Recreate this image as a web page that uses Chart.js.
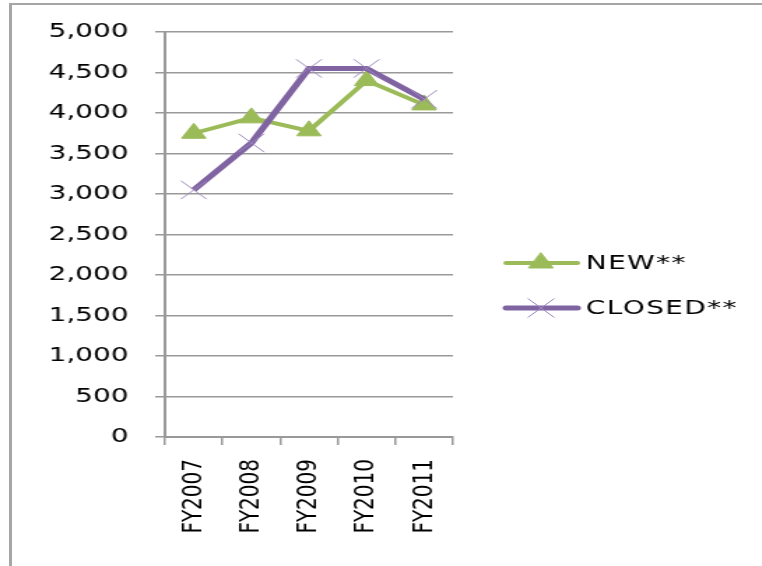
<!DOCTYPE html>
<html>
<head>
<meta charset="utf-8">
<script src="https://cdn.jsdelivr.net/npm/chart.js@4.4.0/dist/chart.umd.min.js"></script>
<style>
    body { margin: 0; background: #fff; }
    #frame {
        position: absolute; left: 9px; top: 3px; width: 760px; height: 561px;
        border-top: 2px solid #a6a6a6; border-left: 3px solid #a6a6a6;
        border-bottom: 1px solid #e6e6e6;
    }
    #wrap {
        position: absolute; left: 0; top: 0; width: 545px; height: 566px;
        transform: scaleX(1.398); transform-origin: 0 0;
    }
</style>
</head>
<body>
<div id="frame"></div>
<div id="wrap"><canvas id="chart" width="545" height="566"></canvas></div>
<script>
const years = ["FY2007", "FY2008", "FY2009", "FY2010", "FY2011"];
const newCases = [3750, 3940, 3780, 4400, 4100];
const closedCases = [3050, 3630, 4550, 4550, 4170];
const yTicks = [0, 500, 1000, 1500, 2000, 2500, 3000, 3500, 4000, 4500, 5000];

const FONT = "'DejaVu Sans', Verdana, sans-serif";

// legend drawn by hand so it sits where the original one is
const sideLegend = {
    id: "sideLegend",
    afterDraw(chart) {
        const ctx = chart.ctx;
        const rows = [1, 0]; // NEW first, then CLOSED
        const ys = [263, 308];
        rows.forEach((idx, i) => {
            const ds = chart.data.datasets[idx];
            const y = ys[i];
            ctx.save();
            ctx.strokeStyle = ds.borderColor;
            ctx.lineWidth = ds.borderWidth;
            ctx.lineCap = "round";
            ctx.beginPath();
            ctx.moveTo(362, y);
            ctx.lineTo(413, y);
            ctx.stroke();
            ctx.fillStyle = ds.pointBackgroundColor;
            ctx.strokeStyle = ds.pointBorderColor;
            ctx.lineWidth = ds.pointBorderWidth;
            Chart.helpers.drawPoint(ctx, {pointStyle: ds.pointStyle, radius: ds.pointRadius, borderWidth: ds.pointBorderWidth}, 387, y);
            ctx.fillStyle = "#000";
            ctx.font = "20px " + FONT;
            ctx.letterSpacing = "1px";
            ctx.textBaseline = "middle";
            ctx.fillText(ds.label, 419, y + 1);
            ctx.restore();
        });
    }
};

new Chart(document.getElementById("chart"), {
    type: "line",
    data: {
        labels: years,
        datasets: [
            {
                label: "CLOSED**",
                data: closedCases,
                borderColor: "#8064a2",
                borderWidth: 5,
                pointStyle: "crossRot",
                pointRadius: 13,
                pointBorderColor: "#9b86bd",
                pointBackgroundColor: "#9b86bd",
                pointBorderWidth: 1,
                order: 0
            },
            {
                label: "NEW**",
                data: newCases,
                borderColor: "#9bbb59",
                borderWidth: 4,
                pointStyle: "triangle",
                pointRadius: 10,
                pointBorderColor: "#9bbb59",
                pointBackgroundColor: "#9bbb59",
                pointBorderWidth: 1,
                order: 1
            }
        ]
    },
    options: {
        responsive: false,
        animation: false,
        events: [],
        layout: { padding: { top: 32, right: 221, left: 0, bottom: 0 } },
        plugins: { legend: { display: false }, tooltip: { enabled: false } },
        scales: {
            x: {
                offset: true,
                afterFit: s => { s.height = 129; },
                grid: { offset: true, drawOnChartArea: false, tickLength: 8, color: "#999", lineWidth: 1.5 },
                border: { color: "#999", width: 2 },
                ticks: {
                    minRotation: 90, maxRotation: 90, padding: 14,
                    color: "#000", font: { family: FONT, size: 20 }
                }
            },
            y: {
                min: 0, max: 5000,
                afterFit: s => { s.width = 118; },
                afterBuildTicks: s => { s.ticks = yTicks.map(v => ({value: v})); },
                grid: { tickLength: 7, color: "#999", lineWidth: 1.5 },
                border: { color: "#999", width: 2 },
                ticks: {
                    padding: 19, color: "#000",
                    font: { family: FONT, size: 20 },
                    callback: v => v.toLocaleString("en-US")
                }
            }
        }
    },
    plugins: [sideLegend]
});
</script>
</body>
</html>
